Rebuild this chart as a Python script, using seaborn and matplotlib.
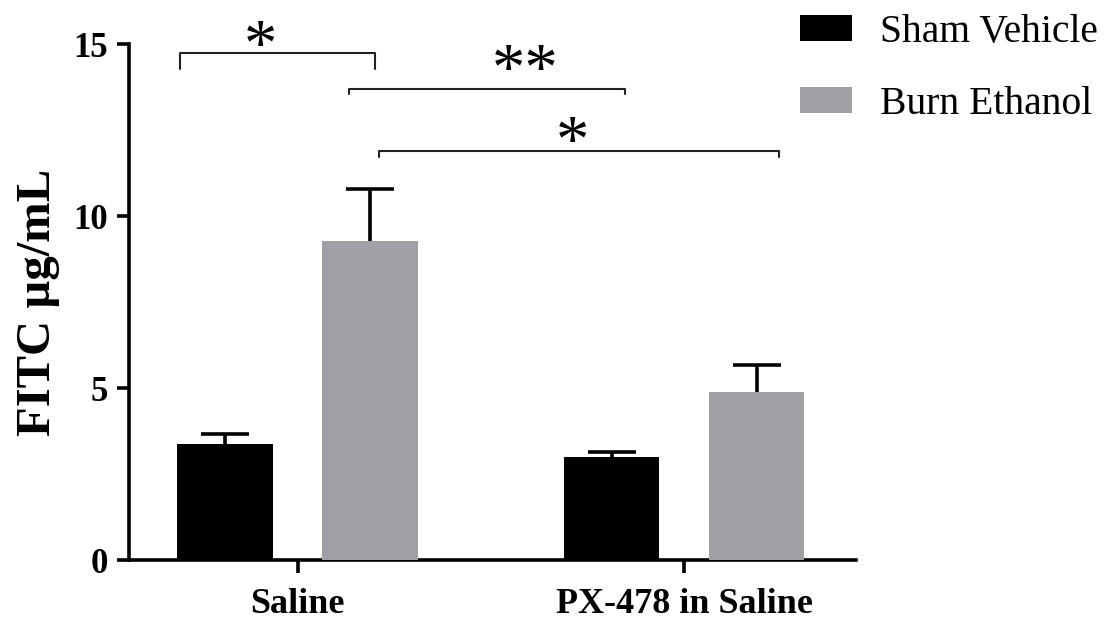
import matplotlib
matplotlib.use("Agg")
import matplotlib.pyplot as plt
import seaborn as sns
import pandas as pd

# ---------------- data ----------------
treatments = ["Saline", "PX-478 in Saline"]
groups = ["Sham Vehicle", "Burn Ethanol"]
sham_means = [3.36, 3.00]
burn_means = [9.28, 4.88]
sham_sem = [0.29, 0.15]
burn_sem = [1.50, 0.79]
y_ticks = [0, 5, 10, 15]
y_label = "FITC µg/mL"

# significance comparisons: (label)
sig_labels = ["*", "**", "*"]

# ---------------- style ----------------
colors = ["#000000", "#a09fa5"]
serif = ["Liberation Serif", "DejaVu Serif"]

sns.set_theme(style="ticks")
plt.rcParams["font.family"] = serif
for k in ["text.color", "axes.labelcolor", "xtick.color", "ytick.color", "axes.edgecolor"]:
    plt.rcParams[k] = "black"

df = pd.DataFrame({
    "Treatment": treatments * 2,
    "Group": [groups[0]] * 2 + [groups[1]] * 2,
    "FITC": sham_means + burn_means,
})
errs = {groups[0]: sham_sem, groups[1]: burn_sem}

fig = plt.figure(figsize=(11.1, 6.21), dpi=100)
ax = fig.add_axes([0.1162, 0.0982, 0.7712 - 0.1162, 0.9291 - 0.0982])

sns.barplot(data=df, x="Treatment", y="FITC", hue="Group", order=treatments,
            hue_order=groups, palette=colors, width=0.75, gap=0.339,
            errorbar=None, saturation=1, ax=ax, zorder=3, linewidth=0)

# upper-only error bars at the bar centres seaborn produced
for cont, g in zip(ax.containers, groups):
    for bar, e in zip(cont, errs[g]):
        xc = bar.get_x() + bar.get_width() / 2
        h = bar.get_height()
        _, caps, _ = ax.errorbar(xc, h, yerr=[[0], [e]], fmt="none", ecolor="black",
                                 elinewidth=2.6, capsize=17, capthick=2.6, zorder=2)
        caps[0].set_visible(False)

ax.set_xlim(-0.436, 1.445)
ax.set_ylim(0, 15)
ax.set_yticks(y_ticks)
ax.set_xlabel("")
ax.set_ylabel(y_label, fontsize=35, fontweight="bold", labelpad=10, color="black")
sns.despine(ax=ax)
for s in ["left", "bottom"]:
    ax.spines[s].set_linewidth(2.6)
    ax.spines[s].set_color("black")
ax.tick_params(axis="both", direction="out", length=9, width=2.6, colors="black")
ax.tick_params(axis="y", labelsize=25, pad=6)
ax.tick_params(axis="x", labelsize=26, pad=11)
for lab in ax.get_xticklabels() + ax.get_yticklabels():
    lab.set_fontweight("bold")

# significance brackets (annotation geometry)
brackets = [(-0.304, 0.2005, 14.75, 14.26),
            (0.133, 0.847, 13.68, 13.55),
            (0.211, 1.246, 11.89, 11.72)]
star_pos = [(-0.097, 14.40), (0.589, 13.69), (0.712, 11.60)]
for (x0, x1, yt, yb), lab, (sx, sy) in zip(brackets, sig_labels, star_pos):
    ax.plot([x0, x0, x1, x1], [yb, yt, yt, yb], color="#222222", lw=1.5,
            clip_on=False, zorder=4)
    ax.text(sx, sy, lab, ha="center", va="baseline", fontsize=48,
            clip_on=False, color="black")

sns.move_legend(ax, loc="upper left", bbox_to_anchor=(800 / 1110, 1 - 14 / 621),
                bbox_transform=fig.transFigure, frameon=False, title=None,
                fontsize=28.5, handlelength=1.31, handleheight=0.64,
                handletextpad=0.72, labelspacing=0.88, borderpad=0,
                borderaxespad=0, labelcolor="black")

fig.savefig("out.png", dpi=100)
